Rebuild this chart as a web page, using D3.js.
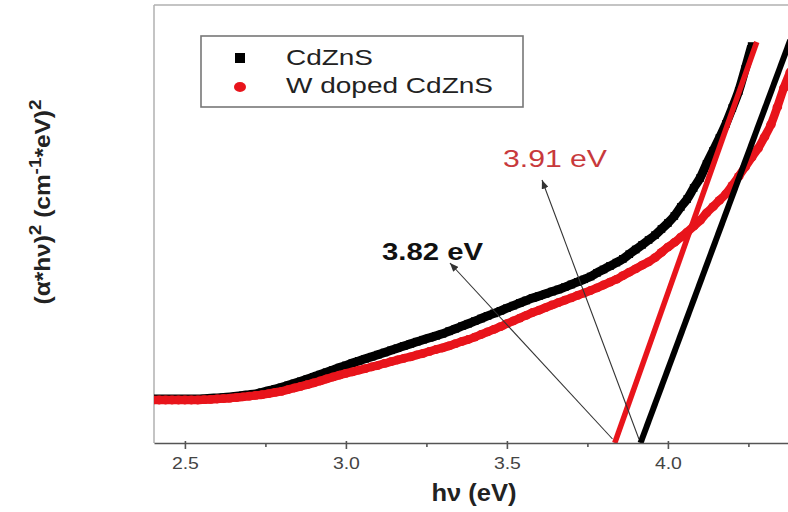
<!DOCTYPE html>
<html><head><meta charset="utf-8">
<script src="https://cdn.jsdelivr.net/npm/d3@7"></script>
<style>body{margin:0;background:#fff} svg{display:block;font-family:"Liberation Sans",Arial,sans-serif}</style>
</head><body><svg id="c" width="788" height="512"></svg>
<script>
// ---------- data (photon energy in eV, Tauc values in arbitrary units) ----------
const energy = [2.40,2.42,2.44,2.46,2.48,2.50,2.52,2.54,2.56,2.58,2.60,2.62,2.64,2.66,2.68,2.70,2.72,2.74,2.76,2.78,
  2.80,2.82,2.84,2.86,2.88,2.90,2.92,2.94,2.96,2.98,3.00,3.02,3.04,3.06,3.08,3.10,3.12,3.14,3.16,3.18,
  3.20,3.22,3.24,3.26,3.28,3.30,3.32,3.34,3.36,3.38,3.40,3.42,3.44,3.46,3.48,3.50,3.52,3.54,3.56,3.58,
  3.60,3.62,3.64,3.66,3.68,3.70,3.72,3.74,3.76,3.78,3.80,3.82,3.84,3.86,3.88,3.90,3.92,3.94,3.96,3.98,
  4.00,4.02,4.04,4.06,4.08,4.10,4.12,4.14,4.16,4.18,4.20,4.22,4.24,4.26,4.28,4.30,4.32,4.34,4.36,4.38];
const cdzns = [44,44,44,44,44,44,44,44,44.3,44.7,45.1,45.6,46,46.8,47.6,48.3,49.2,50.7,52.3,53.8,
  55.6,57.6,59.6,61.7,63.9,66.2,68.4,70.8,73.1,75.4,77.6,79.9,82.1,84.2,86.3,88.4,90.5,92.7,94.8,97,
  99.1,101.3,103.3,105.2,107.2,109.2,111.7,114.2,116.8,119.3,121.9,124.5,127.1,129.6,132.2,134.8,137.4,140,142.5,144.9,
  147,149.2,151.4,153.5,155.9,158.5,161.1,163.7,166.5,170.2,173.6,177,180.4,184.1,188.8,193.5,198.2,203,207.9,214,
  220,227,236,244,255,265,279,292,305,319,335,352,374,397];
const wDoped = [43,43,43,43,43,43,43,43,43.3,43.6,44,44.4,44.8,45.4,46.1,46.8,47.6,48.3,49.4,50.6,
  51.7,53.3,55,56.7,58.3,60.2,62,64.1,66,67.9,69.6,71.2,72.8,74.4,76.1,77.7,79.6,81.3,83,84.7,
  86.1,88,89.7,91.6,93.5,95.2,97.1,99.3,101.5,103.5,105.9,108.5,111.1,113.7,116.3,119.3,122.1,124.9,127.7,130.5,
  132.8,135.4,138,140.4,142.8,145.1,147.7,150,152.5,155.2,158,160.9,163.7,167.3,170.8,174.2,177.8,181.2,185.4,190.6,
  195.8,200.5,205.8,210.9,216.8,222.6,230,236.3,242.7,249,257.6,266.6,276,285.5,294.5,306,318.4,336,355,371];
const seriesNames = ["CdZnS", "W doped CdZnS"];
// linear Tauc fits: [energy, value] end points
const fitRed = [[3.835, 0], [4.276, 401]];
const fitBlack = [[3.915, 0], [4.38, 403]];
const gapLabels = ["3.82 eV", "3.91 eV"];
// arrow tail (on axis) and head (near label), in data units
const arrow382 = [[3.828, 4], [3.323, 180]];
const arrow391 = [[3.910, 4], [3.609, 263]];
const xTicks = [2.5, 3.0, 3.5, 4.0];
const xMinorTicks = [2.75, 3.25, 3.75, 4.25];
const xDomain = [2.404, 4.373];
const yDomain = [0, 438];

// ---------- drawing ----------
const svg = d3.select("#c");
const L = 154, R = 788, T = 5, B = 443;
const x = d3.scaleLinear().domain(xDomain).range([L, R]);
const y = d3.scaleLinear().domain(yDomain).range([B, T]);

const defs = svg.append("defs");
defs.append("clipPath").attr("id", "clip").append("rect")
  .attr("x", L).attr("y", T).attr("width", R - L).attr("height", B - T);
defs.append("marker").attr("id", "ah").attr("viewBox", "0 0 10 8")
  .attr("refX", 10).attr("refY", 4).attr("markerWidth", 9).attr("markerHeight", 7)
  .attr("markerUnits", "userSpaceOnUse").attr("orient", "auto")
  .append("path").attr("d", "M0,0L10,4L0,8Z").attr("fill", "#333");

// frame
svg.append("line").attr("x1", L).attr("x2", R).attr("y1", T).attr("y2", T)
  .attr("stroke", "#b0b0b0").attr("stroke-width", 1.5);
svg.append("line").attr("x1", L).attr("x2", L).attr("y1", T).attr("y2", B)
  .attr("stroke", "#b0b0b0").attr("stroke-width", 1.5);

const plot = svg.append("g").attr("clip-path", "url(#clip)");
const line = d3.line().x(d => x(d[0])).y(d => y(d[1])).curve(d3.curveCatmullRom);

const blackPts = cdzns.map((v, i) => [energy[i], v]);
const redPts = wDoped.map((v, i) => [energy[i], v]);

// CdZnS (black squares)
plot.append("path").datum(blackPts).attr("d", line).attr("fill", "none")
  .attr("stroke", "#000").attr("stroke-width", 9).attr("stroke-linejoin", "round");
plot.append("g").selectAll("rect").data(blackPts).join("rect")
  .attr("x", d => x(d[0]) - 3.8).attr("y", d => y(d[1]) - 3.8)
  .attr("width", 7.6).attr("height", 7.6).attr("fill", "#000");

// W doped (red circles)
plot.append("path").datum(redPts).attr("d", line).attr("fill", "none")
  .attr("stroke", "#e8141b").attr("stroke-width", 8.5).attr("stroke-linejoin", "round");
plot.append("g").selectAll("ellipse").data(redPts).join("ellipse")
  .attr("cx", d => x(d[0])).attr("cy", d => y(d[1])).attr("rx", 4.8).attr("ry", 4.4)
  .attr("fill", "#e8141b");

// fit lines
const fl = d3.line().x(d => x(d[0])).y(d => y(d[1]));
plot.append("path").datum(fitRed).attr("d", fl).attr("stroke", "#e8141b").attr("stroke-width", 5.5).attr("fill", "none");
plot.append("path").datum(fitBlack).attr("d", fl).attr("stroke", "#000").attr("stroke-width", 6).attr("fill", "none");

// arrows
[arrow382, arrow391].forEach(a => {
  svg.append("line").attr("x1", x(a[0][0])).attr("y1", y(a[0][1]))
    .attr("x2", x(a[1][0])).attr("y2", y(a[1][1]))
    .attr("stroke", "#333").attr("stroke-width", 1.1).attr("marker-end", "url(#ah)");
});

// labels
svg.append("text").attr("x", 382).attr("y", 260).attr("font-size", 24).attr("font-weight", "bold")
  .attr("fill", "#111").attr("textLength", 101).attr("lengthAdjust", "spacingAndGlyphs").text(gapLabels[0]);
svg.append("text").attr("x", 503).attr("y", 167).attr("font-size", 23)
  .attr("fill", "#c8393c").attr("textLength", 104).attr("lengthAdjust", "spacingAndGlyphs").text(gapLabels[1]);

// x axis
const ax = svg.append("g").attr("transform", `translate(0,${B})`)
  .call(d3.axisBottom(x).tickValues(xTicks).tickFormat(d3.format(".1f")).tickSize(6).tickSizeOuter(0).tickPadding(9));
ax.select(".domain").attr("stroke", "#555").attr("stroke-width", 1.6);
ax.selectAll(".tick line").attr("stroke", "#555").attr("stroke-width", 1.6).attr("y1", -2);
ax.selectAll(".tick text").attr("font-size", 16).attr("fill", "#444")
  .attr("font-family", "Liberation Sans, Arial, sans-serif")
  .attr("textLength", 27).attr("lengthAdjust", "spacingAndGlyphs");
const axm = svg.append("g").attr("transform", `translate(0,${B})`)
  .call(d3.axisBottom(x).tickValues(xMinorTicks).tickFormat("").tickSize(4).tickSizeOuter(0));
axm.select(".domain").remove();
axm.selectAll(".tick line").attr("stroke", "#555").attr("stroke-width", 1.6);

svg.append("text").attr("x", 474).attr("y", 501).attr("text-anchor", "middle")
  .attr("font-size", 23).attr("font-weight", "bold").attr("fill", "#222")
  .attr("textLength", 85).attr("lengthAdjust", "spacingAndGlyphs").text("hν (eV)");

// y title
const yt = svg.append("text").attr("transform", "translate(50,202) rotate(-90)")
  .attr("text-anchor", "middle").attr("font-size", 22).attr("font-weight", "bold").attr("fill", "#222")
  .attr("textLength", 205).attr("lengthAdjust", "spacingAndGlyphs");
yt.append("tspan").text("(α*hν)");
yt.append("tspan").attr("font-size", 17).attr("dy", -9).text("2");
yt.append("tspan").attr("dy", 9).text(" (cm");
yt.append("tspan").attr("font-size", 17).attr("dy", -9).text("-1");
yt.append("tspan").attr("dy", 9).text("*eV)");
yt.append("tspan").attr("font-size", 17).attr("dy", -9).text("2");

// legend
const lg = svg.append("g");
lg.append("rect").attr("x", 201).attr("y", 36).attr("width", 322).attr("height", 71)
  .attr("fill", "#fff").attr("stroke", "#777").attr("stroke-width", 1.6);
lg.append("rect").attr("x", 235).attr("y", 53).attr("width", 10).attr("height", 10).attr("fill", "#000");
lg.append("ellipse").attr("cx", 240).attr("cy", 87).attr("rx", 6).attr("ry", 5).attr("fill", "#e8141b");
const lw = [87, 207];
seriesNames.forEach((n, i) => {
  lg.append("text").attr("x", 286).attr("y", 65 + i * 28).attr("font-size", 22).attr("fill", "#222")
    .attr("textLength", lw[i]).attr("lengthAdjust", "spacingAndGlyphs").text(n);
});
</script></body></html>
